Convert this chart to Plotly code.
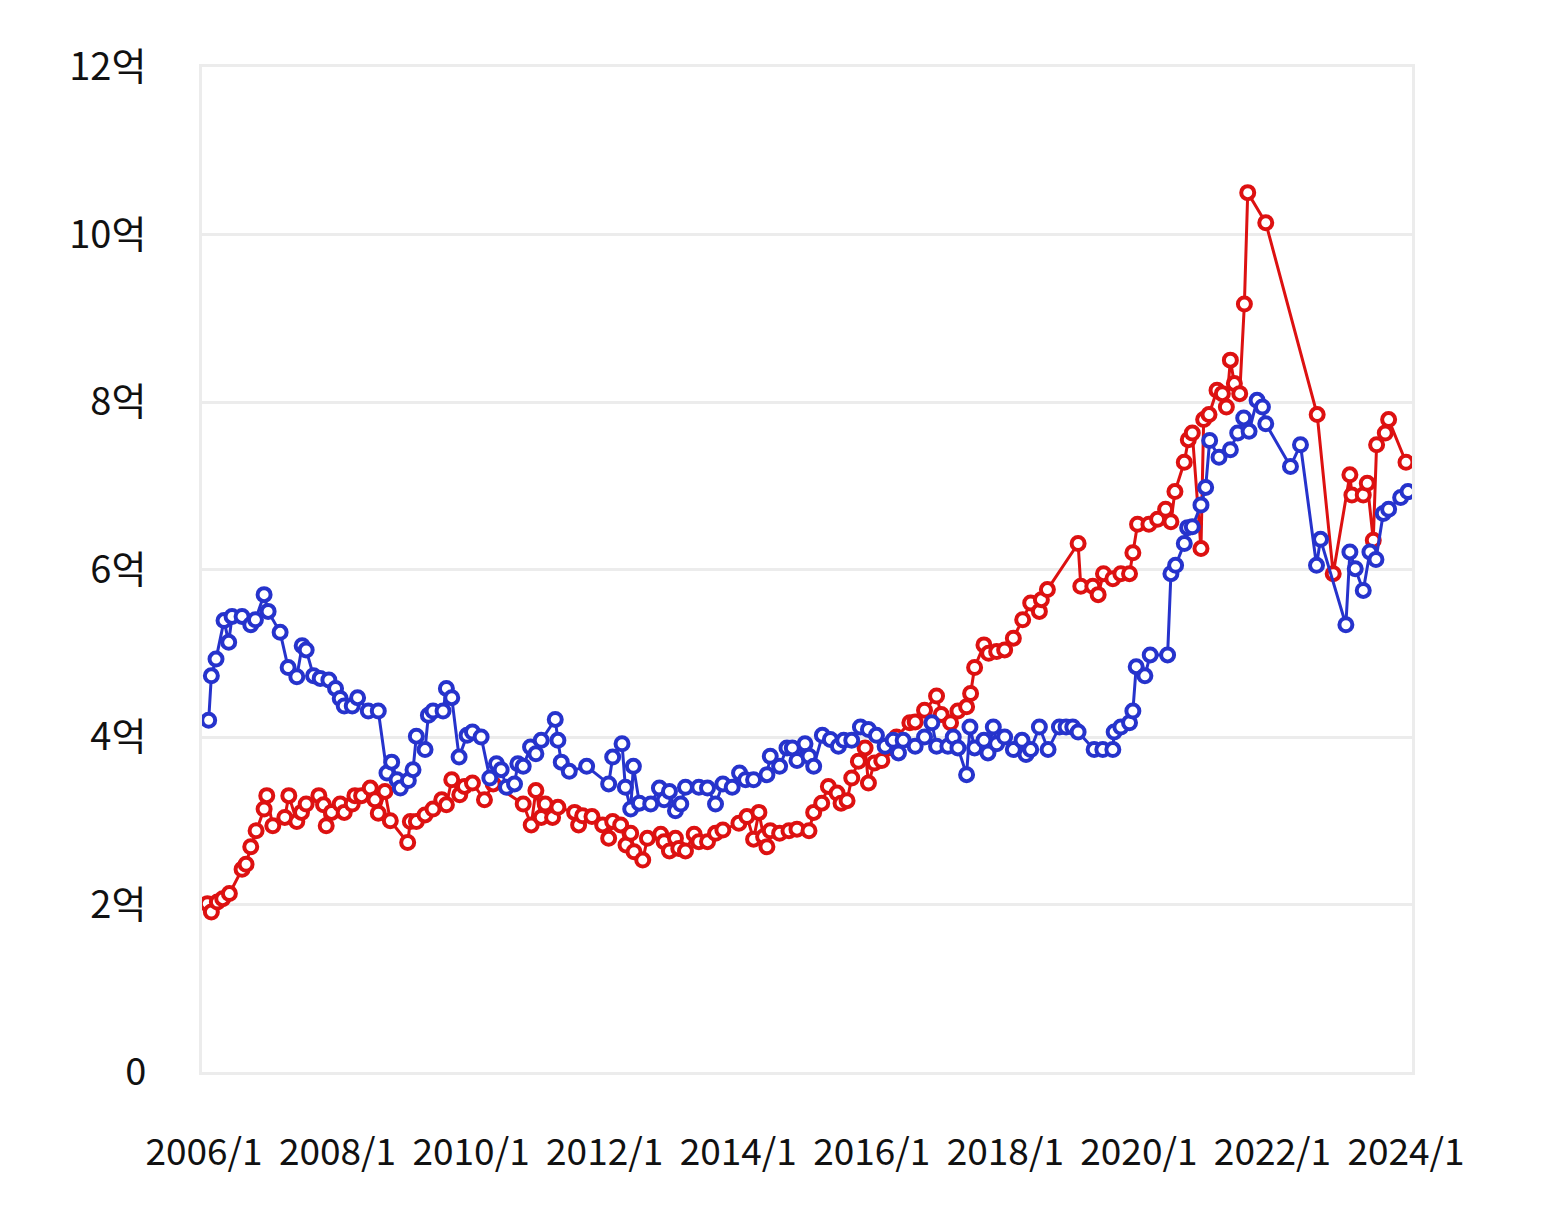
import plotly.graph_objects as go

# decimal years (x) and values in 억 (y)
blue_x = [2006.07, 2006.11, 2006.18, 2006.30, 2006.37, 2006.42, 2006.57, 2006.70, 2006.77, 2006.90,
          2006.96, 2007.14, 2007.26, 2007.39, 2007.47, 2007.53, 2007.64, 2007.74, 2007.87, 2007.97,
          2008.04, 2008.10, 2008.22, 2008.30, 2008.46, 2008.61, 2008.74, 2008.81, 2008.89, 2008.94,
          2009.06, 2009.13, 2009.18, 2009.31, 2009.36, 2009.43, 2009.58, 2009.63, 2009.71, 2009.82,
          2009.94, 2010.02, 2010.15, 2010.28, 2010.38, 2010.45, 2010.53, 2010.65, 2010.70, 2010.78,
          2010.89, 2010.97, 2011.05, 2011.26, 2011.30, 2011.35, 2011.47, 2011.73, 2012.06, 2012.12,
          2012.26, 2012.31, 2012.39, 2012.43, 2012.52, 2012.69, 2012.82, 2012.89, 2012.97, 2013.06,
          2013.14, 2013.21, 2013.41, 2013.54, 2013.66, 2013.77, 2013.91, 2014.02, 2014.11, 2014.23,
          2014.43, 2014.48, 2014.62, 2014.73, 2014.81, 2014.88, 2015.00, 2015.06, 2015.13, 2015.26,
          2015.38, 2015.50, 2015.58, 2015.70, 2015.83, 2015.95, 2016.07, 2016.20, 2016.32, 2016.40,
          2016.47, 2016.65, 2016.79, 2016.90, 2016.97, 2017.14, 2017.22, 2017.29, 2017.42, 2017.47,
          2017.54, 2017.68, 2017.74, 2017.82, 2017.87, 2017.99, 2018.12, 2018.25, 2018.31, 2018.38,
          2018.51, 2018.64, 2018.81, 2018.91, 2019.01, 2019.09, 2019.33, 2019.46, 2019.61, 2019.63,
          2019.73, 2019.86, 2019.91, 2019.96, 2020.09, 2020.17, 2020.43, 2020.48, 2020.55, 2020.68,
          2020.73, 2020.80, 2020.93, 2021.00, 2021.06, 2021.20, 2021.37, 2021.48, 2021.57, 2021.65,
          2021.77, 2021.85, 2021.90, 2022.27, 2022.42, 2022.66, 2022.72, 2023.10, 2023.16, 2023.24,
          2023.36, 2023.46, 2023.55, 2023.66, 2023.74, 2023.92, 2024.03]
blue_y = [4.20, 4.73, 4.93, 5.39, 5.13, 5.44, 5.44, 5.34, 5.40, 5.70,
          5.50, 5.25, 4.83, 4.72, 5.09, 5.04, 4.73, 4.70, 4.68, 4.58,
          4.46, 4.37, 4.37, 4.47, 4.31, 4.31, 3.57, 3.70, 3.49, 3.39,
          3.48, 3.61, 4.01, 3.85, 4.26, 4.31, 4.31, 4.58, 4.47, 3.76,
          4.02, 4.06, 4.00, 3.51, 3.68, 3.61, 3.40, 3.44, 3.68, 3.65,
          3.88, 3.80, 3.96, 4.21, 3.96, 3.70, 3.59, 3.65, 3.44, 3.76,
          3.92, 3.40, 3.14, 3.65, 3.21, 3.20, 3.39, 3.25, 3.35, 3.12,
          3.20, 3.40, 3.40, 3.39, 3.20, 3.44, 3.40, 3.57, 3.49, 3.49,
          3.55, 3.77, 3.65, 3.87, 3.87, 3.72, 3.92, 3.77, 3.65, 4.02,
          3.97, 3.89, 3.96, 3.96, 4.12, 4.09, 4.02, 3.89, 3.96, 3.81,
          3.96, 3.89, 4.00, 4.17, 3.89, 3.89, 4.00, 3.87, 3.55, 4.12,
          3.87, 3.96, 3.81, 4.12, 3.92, 4.00, 3.85, 3.96, 3.79, 3.85,
          4.12, 3.85, 4.12, 4.12, 4.12, 4.06, 3.85, 3.85, 3.85, 4.06,
          4.12, 4.17, 4.31, 4.84, 4.73, 4.98, 4.98, 5.95, 6.05, 6.31,
          6.50, 6.51, 6.77, 6.98, 7.54, 7.34, 7.43, 7.63, 7.81, 7.65,
          8.02, 7.94, 7.74, 7.23, 7.49, 6.05, 6.36, 5.34, 6.21, 6.01,
          5.75, 6.21, 6.12, 6.67, 6.72, 6.86, 6.93]

red_x = [2006.05, 2006.11, 2006.20, 2006.28, 2006.38, 2006.57, 2006.63, 2006.70, 2006.78, 2006.90,
         2006.94, 2007.03, 2007.21, 2007.27, 2007.39, 2007.46, 2007.53, 2007.72, 2007.79, 2007.83,
         2007.91, 2008.04, 2008.10, 2008.22, 2008.26, 2008.36, 2008.49, 2008.56, 2008.61, 2008.71,
         2008.79, 2009.05, 2009.09, 2009.18, 2009.31, 2009.43, 2009.56, 2009.63, 2009.71, 2009.83,
         2009.90, 2010.02, 2010.20, 2010.33, 2010.78, 2010.90, 2010.97, 2011.05, 2011.11, 2011.22,
         2011.30, 2011.55, 2011.61, 2011.67, 2011.81, 2011.97, 2012.06, 2012.12, 2012.24, 2012.32,
         2012.39, 2012.44, 2012.57, 2012.64, 2012.84, 2012.89, 2012.97, 2013.06, 2013.11, 2013.21,
         2013.34, 2013.41, 2013.54, 2013.66, 2013.77, 2014.01, 2014.13, 2014.23, 2014.31, 2014.38,
         2014.43, 2014.48, 2014.62, 2014.76, 2014.88, 2015.06, 2015.13, 2015.25, 2015.35, 2015.48,
         2015.54, 2015.63, 2015.70, 2015.80, 2015.90, 2015.95, 2016.04, 2016.15, 2016.25, 2016.37,
         2016.57, 2016.65, 2016.79, 2016.97, 2017.04, 2017.18, 2017.29, 2017.42, 2017.48, 2017.54,
         2017.68, 2017.75, 2017.87, 2017.99, 2018.12, 2018.26, 2018.38, 2018.51, 2018.54, 2018.63,
         2019.09, 2019.13, 2019.31, 2019.39, 2019.47, 2019.61, 2019.73, 2019.86, 2019.91, 2019.98,
         2020.15, 2020.28, 2020.40, 2020.48, 2020.54, 2020.68, 2020.74, 2020.80, 2020.93, 2020.97,
         2021.05, 2021.17, 2021.25, 2021.31, 2021.37, 2021.43, 2021.51, 2021.58, 2021.63, 2021.90,
         2022.67, 2022.91, 2023.16, 2023.19, 2023.36, 2023.42, 2023.51, 2023.56, 2023.69, 2023.74,
         2024.00]
red_y = [2.01, 1.91, 2.03, 2.07, 2.13, 2.42, 2.48, 2.69, 2.88, 3.14,
         3.30, 2.94, 3.04, 3.30, 2.99, 3.10, 3.20, 3.30, 3.19, 2.94,
         3.10, 3.20, 3.10, 3.20, 3.30, 3.30, 3.39, 3.25, 3.09, 3.35,
         3.00, 2.74, 2.99, 2.99, 3.07, 3.14, 3.25, 3.19, 3.49, 3.31,
         3.41, 3.45, 3.25, 3.44, 3.20, 2.95, 3.36, 3.04, 3.20, 3.04,
         3.16, 3.10, 2.95, 3.06, 3.05, 2.95, 2.79, 2.99, 2.95, 2.71,
         2.85, 2.63, 2.53, 2.79, 2.84, 2.75, 2.64, 2.79, 2.67, 2.64,
         2.84, 2.75, 2.75, 2.85, 2.89, 2.97, 3.05, 2.78, 3.10, 2.81,
         2.69, 2.88, 2.85, 2.88, 2.90, 2.88, 3.10, 3.21, 3.41, 3.33,
         3.21, 3.24, 3.51, 3.71, 3.87, 3.45, 3.69, 3.72, 3.87, 4.00,
         4.17, 4.18, 4.32, 4.49, 4.27, 4.17, 4.31, 4.36, 4.52, 4.83,
         5.10, 5.00, 5.02, 5.04, 5.18, 5.40, 5.60, 5.50, 5.64, 5.76,
         6.31, 5.80, 5.80, 5.70, 5.95, 5.89, 5.95, 5.95, 6.20, 6.54,
         6.54, 6.60, 6.72, 6.57, 6.93, 7.28, 7.55, 7.63, 6.25, 7.79,
         7.85, 8.14, 8.10, 7.94, 8.50, 8.22, 8.10, 9.17, 10.50, 10.14,
         7.85, 5.95, 7.13, 6.89, 6.89, 7.03, 6.35, 7.49, 7.63, 7.79,
         7.28]

x_tick_vals = [2006, 2008, 2010, 2012, 2014, 2016, 2018, 2020, 2022, 2024]
x_tick_text = ["2006/1", "2008/1", "2010/1", "2012/1", "2014/1", "2016/1", "2018/1", "2020/1", "2022/1", "2024/1"]
y_tick_vals = [0, 2, 4, 6, 8, 10, 12]
y_tick_text = ["0", "2억", "4억", "6억", "8억", "10억", "12억"]

RED = "#dd1111"
BLUE = "#2633cc"

fig = go.Figure()
for xs, ys, c in [(red_x, red_y, RED), (blue_x, blue_y, BLUE)]:
    fig.add_trace(go.Scatter(
        x=xs, y=ys, mode="lines+markers",
        line=dict(color=c, width=3),
        marker=dict(symbol="circle", size=13, color="white", line=dict(color=c, width=4)),
        showlegend=False, hoverinfo="skip",
    ))

FONT = "Noto Sans CJK KR, Noto Sans, sans-serif"
GRID = "#ececec"

# page body has an 8px default margin, so the figure is sized to fit the window
fig.update_layout(
    width=1533, height=1213,
    margin=dict(l=194, r=129, t=59, b=149),
    paper_bgcolor="white", plot_bgcolor="white",
    font=dict(family=FONT, size=38, color="#111111"),
)
fig.update_xaxes(
    range=[2005.97, 2024.09], automargin=False,
    tickmode="array", tickvals=x_tick_vals, ticktext=x_tick_text, tickangle=0,
    showgrid=False, zeroline=False,
    showline=True, mirror=True, linecolor=GRID, linewidth=3,
    ticks="", ticklabelstandoff=46,
    tickfont=dict(family=FONT, size=37, color="#111111"),
)
fig.update_yaxes(
    range=[0, 12], automargin=False,
    tickmode="array", tickvals=y_tick_vals, ticktext=y_tick_text,
    showgrid=True, gridcolor=GRID, gridwidth=3, zeroline=False,
    showline=True, mirror=True, linecolor=GRID, linewidth=3,
    ticks="", ticklabelstandoff=45,
    tickfont=dict(family=FONT, size=38, color="#111111"),
)

fig.write_html("out.html")
